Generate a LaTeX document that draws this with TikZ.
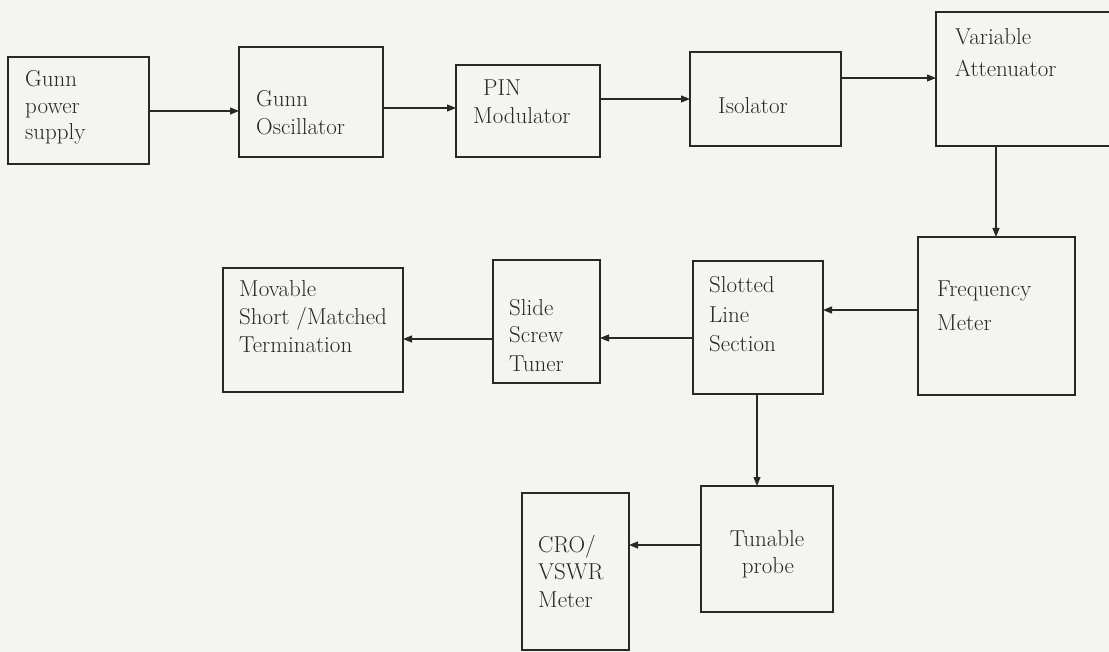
\documentclass[tikz,border=0pt]{standalone}
\usetikzlibrary{arrows.meta}
\definecolor{bg}{RGB}{244,244,242}
\definecolor{ink}{RGB}{40,40,40}
\begin{document}
\begin{tikzpicture}[x=1pt,y=-1pt,
  box/.style={draw=ink,line width=1.1pt,inner sep=0pt,outer sep=0pt,rectangle},
  lbl/.style={anchor=base west,inner sep=0pt,text=ink,font=\fontsize{23}{27}\selectfont},
  arr/.style={draw=ink,line width=1.1pt,-{Triangle[length=9pt,width=7pt]}}]
\fill[bg] (0,0) rectangle (1109,652);
\useasboundingbox (0,0) rectangle (1109,652);
% boxes
\node[box,minimum width=141pt,minimum height=107pt] (gps) at (78.5,110.5) {};
\node[box,minimum width=144pt,minimum height=110pt] (osc) at (311,102) {};
\node[box,minimum width=144pt,minimum height=92pt] (pin) at (528,111) {};
\node[box,minimum width=151pt,minimum height=94pt] (iso) at (765.5,99) {};
\node[box,minimum width=180pt,minimum height=134pt] (att) at (1026,79) {};
\node[box,minimum width=157pt,minimum height=158pt] (fm) at (996.5,316) {};
\node[box,minimum width=130pt,minimum height=133pt] (slot) at (758,327.5) {};
\node[box,minimum width=107pt,minimum height=123pt] (sst) at (546.5,321.5) {};
\node[box,minimum width=180pt,minimum height=124pt] (mov) at (313,330) {};
\node[box,minimum width=132pt,minimum height=126pt] (tp) at (767,549) {};
\node[box,minimum width=107pt,minimum height=157pt] (cro) at (575.5,571.5) {};
% texts
\node[lbl] (t1a) at (25,87) {Gunn};
\node[lbl] (t1b) at (25,114) {power};
\node[lbl] (t1c) at (25,140) {supply};
\node[lbl] (t2a) at (256,107) {Gunn};
\node[lbl] (t2b) at (256,135) {Oscillator};
\node[lbl] (t3a) at (483,96) {PIN};
\node[lbl] (t3b) at (473,124) {Modulator};
\node[lbl] (t4a) at (718,114) {Isolator};
\node[lbl] (t5a) at (955,45) {Variable};
\node[lbl] (t5b) at (955,77) {Attenuator};
\node[lbl] (t6a) at (937,297) {Frequency};
\node[lbl] (t6b) at (937,331) {Meter};
\node[lbl] (t7a) at (709,293) {Slotted};
\node[lbl] (t7b) at (709,323) {Line};
\node[lbl] (t7c) at (709,352) {Section};
\node[lbl] (t8a) at (509,316) {Slide};
\node[lbl] (t8b) at (509,343) {Screw};
\node[lbl] (t8c) at (509,372) {Tuner};
\node[lbl] (t9a) at (239,297) {Movable};
\node[lbl] (t9b) at (239,325) {Short /Matched};
\node[lbl] (t9c) at (239,353) {Termination};
\node[lbl,anchor=base] (t10a) at (767,546) {Tunable};
\node[lbl,anchor=base] (t10b) at (768,573) {probe};
\node[lbl] (t11a) at (538,552) {CRO/};
\node[lbl] (t11b) at (538,579) {VSWR};
\node[lbl] (t11c) at (538,607) {Meter};
% connectors
\draw[arr] (gps.east |- 0,111) -- (osc.west |- 0,111);
\draw[arr] (osc.east |- 0,108) -- (pin.west |- 0,108);
\draw[arr] (pin.east |- 0,99) -- (iso.west |- 0,99);
\draw[arr] (iso.east |- 0,78) -- (att.west |- 0,78);
\draw[arr] (att.south -| 996,0) -- (fm.north -| 996,0);
\draw[arr] (fm.west |- 0,310) -- (slot.east |- 0,310);
\draw[arr] (slot.west |- 0,338) -- (sst.east |- 0,338);
\draw[arr] (sst.west |- 0,339) -- (mov.east |- 0,339);
\draw[arr] (slot.south -| 757,0) -- (tp.north -| 757,0);
\draw[arr] (tp.west |- 0,545) -- (cro.east |- 0,545);
\end{tikzpicture}
\end{document}
